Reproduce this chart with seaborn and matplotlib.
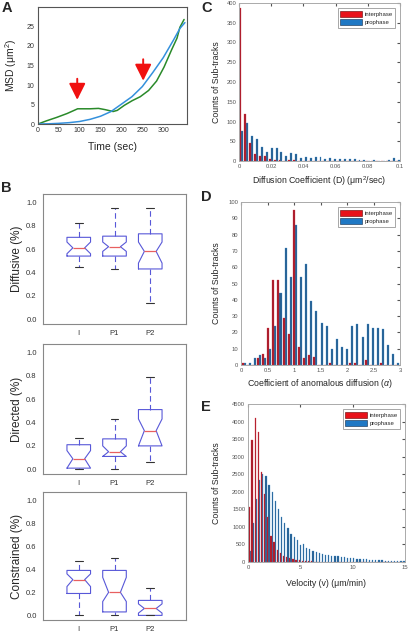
import numpy as np
import pandas as pd
import matplotlib
matplotlib.use("Agg")
import matplotlib.pyplot as plt
import seaborn as sns
from matplotlib.patches import Patch

# ---------------- data ----------------
# A: MSD vs time
green_t = [0, 20, 45, 70, 95, 125, 145, 160, 180, 190, 207, 226, 245, 265, 284, 302, 320, 333, 340, 350]
green_msd = [0, 0.8, 1.7, 2.7, 3.9, 3.9, 4.0, 3.7, 3.2, 3.5, 4.8, 6.0, 7.0, 8.6, 11.0, 14.6, 19.0, 22.0, 24.8, 26.8]
blue_t = [0, 25, 50, 75, 100, 125, 150, 175, 200, 225, 250, 275, 300, 325, 340, 352]
blue_msd = [0, 0.05, 0.17, 0.35, 0.65, 1.2, 2.0, 3.2, 5.1, 7.0, 9.6, 13.2, 17.0, 21.6, 24.5, 26.0]

# B: box stats per group -> [whislo, q1, med, q3, whishi, cilo, cihi]
groups = ["I", "P1", "P2"]
diffusive = [[0.45, 0.54, 0.61, 0.70, 0.82, 0.56, 0.66],
             [0.43, 0.54, 0.62, 0.71, 0.95, 0.58, 0.66],
             [0.14, 0.43, 0.58, 0.73, 0.95, 0.48, 0.66]]
directed = [[0.00, 0.01, 0.09, 0.21, 0.27, 0.01, 0.16],
            [0.00, 0.11, 0.15, 0.26, 0.43, 0.11, 0.20],
            [0.06, 0.20, 0.33, 0.51, 0.79, 0.20, 0.43]]
constrained = [[0.00, 0.19, 0.31, 0.39, 0.47, 0.25, 0.36],
               [0.00, 0.03, 0.20, 0.39, 0.50, 0.12, 0.33],
               [0.00, 0.00, 0.06, 0.13, 0.24, 0.02, 0.10]]

# C: diffusion coefficient histogram (33 bins, 0..0.1)
c_interphase = [388, 118, 46, 17, 12, 12, 5, 3, 2, 1, 2, 3, 1, 0, 1, 0, 0, 0, 0, 0,
                0, 0, 0, 0, 0, 0, 0, 0, 0, 0, 0, 0, 0]
c_prophase = [75, 97, 63, 55, 36, 22, 33, 34, 22, 13, 20, 17, 8, 10, 7, 10, 11, 5, 7, 6,
              4, 5, 4, 5, 3, 2, 1, 2, 1, 1, 2, 7, 2]

# D: anomalous diffusion coefficient histogram (31 bins, 0..3)
d_interphase = [1, 0, 0, 4, 7, 23, 52, 52, 29, 19, 95, 11, 4, 6, 5, 0, 0, 1, 0, 0,
                0, 1, 1, 0, 3, 0, 0, 1, 0, 0, 0]
d_prophase = [1, 1, 4, 6, 4, 10, 24, 44, 72, 54, 86, 54, 62, 39, 33, 26, 24, 10, 16, 11,
              10, 24, 25, 17, 25, 23, 23, 22, 12, 7, 1]

# E: velocity histogram (50 bins, 0..15)
e_interphase = [1580, 3480, 4100, 3700, 2560, 1950, 1280, 730, 560, 350, 250, 180, 130, 110, 80,
                60, 45, 35, 25, 20, 15, 12, 10, 8, 6, 5, 4, 3, 2, 2] + [0] * 20
e_prophase = [300, 1120, 1800, 2330, 2500, 2450, 2190, 2000, 1740, 1500, 1290, 1120, 980, 810, 700,
              620, 480, 500, 400, 370, 315, 285, 255, 235, 210, 200, 180, 170, 160, 145,
              133, 120, 110, 100, 95, 90, 80, 75, 70, 60, 55, 50, 45, 40, 40, 35, 30, 30, 25, 20]

phases = ["interphase", "prophase"]
red = "#e8121a"
blue = "#1f78c4"
bar_red, bar_red_edge = "#a81c2c", "#d8303a"
bar_blue, bar_blue_edge = "#255f92", "#3f8cc8"

# ---------------- style ----------------
sns.set_style("white")
plt.rcParams["font.family"] = ["Liberation Sans", "DejaVu Sans"]
plt.rcParams["mathtext.fontset"] = "custom"
plt.rcParams["mathtext.rm"] = "Liberation Sans"
plt.rcParams["mathtext.it"] = "Liberation Sans:italic"

W, H = 408, 635
fig = plt.figure(figsize=(W / 100, H / 100), dpi=100)


def px_axes(x0, y0, x1, y1):
    return fig.add_axes([x0 / W, 1 - y1 / H, (x1 - x0) / W, (y1 - y0) / H])


# ---------------- A ----------------
ax = px_axes(38, 7, 187, 124)
sns.lineplot(x=green_t, y=green_msd, color="#2a8a2a", lw=1.1, ax=ax)
sns.lineplot(x=blue_t, y=blue_msd, color="#3490dc", lw=1.1, ax=ax)
for xa, y0, y1 in [(94, 11.6, 6.2), (252, 16.6, 11.1)]:
    ax.annotate("", xy=(xa, y1), xytext=(xa, y0),
                arrowprops=dict(arrowstyle="-|>,head_length=1.0,head_width=0.5",
                                color="#f01010", lw=1.4, mutation_scale=10,
                                shrinkA=0, shrinkB=0))
ax.set_xlim(0, 357)
ax.set_ylim(0, 30)
ax.set_xticks(range(0, 351, 50))
ax.set_xticklabels([str(t) if t <= 300 else "" for t in range(0, 351, 50)])
ax.set_yticks(range(0, 26, 5))
ax.tick_params(labelsize=5, length=1.5, direction="in", pad=2.5, colors="#333333")
ax.set_xlabel("Time (sec)", fontsize=7.5)
ax.set_ylabel("MSD (μm$^{2}$)", fontsize=7.5)
ax.xaxis.set_label_coords(0.5, -0.15)
ax.yaxis.set_label_coords(-0.13, 0.5)
for s in ax.spines.values():
    s.set_color("#555555")
    s.set_linewidth(0.8)

# ---------------- B ----------------
box_specs = [(diffusive, "Diffusive (%)", (43, 194, 186, 324)),
             (directed, "Directed (%)", (43, 344, 186, 474)),
             (constrained, "Constrained (%)", (43, 492, 186, 620))]
for data, label, rect in box_specs:
    ax = px_axes(*rect)
    stats = []
    for g, v in zip(groups, data):
        stats.append(dict(label=g, whislo=v[0], q1=v[1], med=v[2], q3=v[3],
                          whishi=v[4], cilo=v[5], cihi=v[6], fliers=[]))
    ax.bxp(stats, positions=[1, 2, 3], widths=0.66, shownotches=True, showfliers=False,
           capwidths=0.22,
           boxprops=dict(color="#5858d8", lw=0.8),
           medianprops=dict(color="#e86060", lw=0.9),
           whiskerprops=dict(color="#5858d8", lw=0.8, ls=(0, (5, 3))),
           capprops=dict(color="#333333", lw=0.8))
    ax.set_xlim(0, 4)
    ax.set_ylim(-0.04, 1.07)
    ax.set_yticks(np.arange(0, 1.01, 0.2))
    ax.set_yticklabels([f"{t:.1f}" for t in np.arange(0, 1.01, 0.2)])
    ax.set_xticks([1, 2, 3])
    ax.set_xticklabels(groups)
    ax.tick_params(labelsize=5.5, length=2, direction="in", pad=4.5, colors="#333333")
    ax.set_ylabel(label, fontsize=8.5)
    ax.yaxis.set_label_coords(-0.14, 0.5)
    for s in ax.spines.values():
        s.set_color("#888888")
        s.set_linewidth(0.8)

# ---------------- C, D, E ----------------
hist_specs = [
    (c_interphase, c_prophase, 0.0, 0.1, (239, 3, 400, 161), (0, 0.1), (0, 400),
     np.arange(0, 0.101, 0.02), np.arange(0, 401, 50),
     "Diffusion Coefficient (D) (μm$^{2}$/sec)", -0.112, -0.085),
    (d_interphase, d_prophase, 0.0, 3.0, (241, 202, 400, 365), (0, 3), (0, 100),
     np.arange(0, 3.01, 0.5), np.arange(0, 101, 10),
     r"Coefficient of anomalous diffusion ($\alpha$)", -0.126, -0.075),
    (e_interphase, e_prophase, 0.0, 15.0, (248, 404, 405, 562), (0, 15), (0, 4500),
     np.arange(0, 15.1, 5), np.arange(0, 4501, 500),
     "Velocity (v) (μm/min)", -0.172, -0.11),
]
for inter, pro, lo, hi, rect, xl, yl, xt, yt, xlabel, ylc, xlc in hist_specs:
    ax = px_axes(*rect)
    n = len(inter)
    bw = (hi - lo) / n
    centers = lo + bw * (np.arange(n) + 0.5)
    df = pd.DataFrame({
        "value": np.concatenate([centers, centers]),
        "count": np.concatenate([inter, pro]),
        "phase": [phases[0]] * n + [phases[1]] * n,
    })
    df = df[df["count"] > 0]
    sns.histplot(data=df, x="value", weights="count", hue="phase", hue_order=phases,
                 binwidth=bw, binrange=(lo, hi), multiple="dodge", shrink=0.8,
                 palette=[bar_red, bar_blue], alpha=1, linewidth=0.2, legend=False, ax=ax)
    for p in ax.patches:
        r, g, b, _ = p.get_facecolor()
        p.set_edgecolor(bar_red_edge if r > b else bar_blue_edge)
    ax.set_xlim(*xl)
    ax.set_ylim(*yl)
    ax.set_xticks(xt)
    ax.set_xticklabels([f"{t:g}" for t in xt])
    ax.set_yticks(yt)
    ax.set_yticklabels([f"{t:g}" for t in yt])
    ax.tick_params(labelsize=4.2, length=2, direction="in", pad=2, colors="#555555",
                   top=True, right=True)
    ax.set_xlabel(xlabel, fontsize=6.3)
    ax.set_ylabel("Counts of Sub-tracks", fontsize=6.3)
    ax.xaxis.set_label_coords(0.5, xlc)
    ax.yaxis.set_label_coords(ylc, 0.5)
    for s in ax.spines.values():
        s.set_color("#aaaaaa")
        s.set_linewidth(0.7)
    handles = [Patch(facecolor=red, edgecolor="#600000", lw=0.4),
               Patch(facecolor=blue, edgecolor="#102848", lw=0.4)]
    leg = ax.legend(handles, phases, loc="upper right", fontsize=4.3, handlelength=3.6,
                    handleheight=1.3, borderpad=0.4, labelspacing=0.25,
                    handletextpad=0.5, fancybox=False, framealpha=1,
                    bbox_to_anchor=(0.99, 0.985))
    leg.get_frame().set_edgecolor("#999999")
    leg.get_frame().set_linewidth(0.6)

# ---------------- panel letters ----------------
for letter, x, y in [("A", 2, 1), ("B", 1, 181), ("C", 201, 1), ("D", 201, 190), ("E", 201, 400)]:
    fig.text(x / W, 1 - y / H, letter, fontsize=10.5, fontweight="bold", va="top", ha="left")

fig.savefig("out.png", dpi=100)
